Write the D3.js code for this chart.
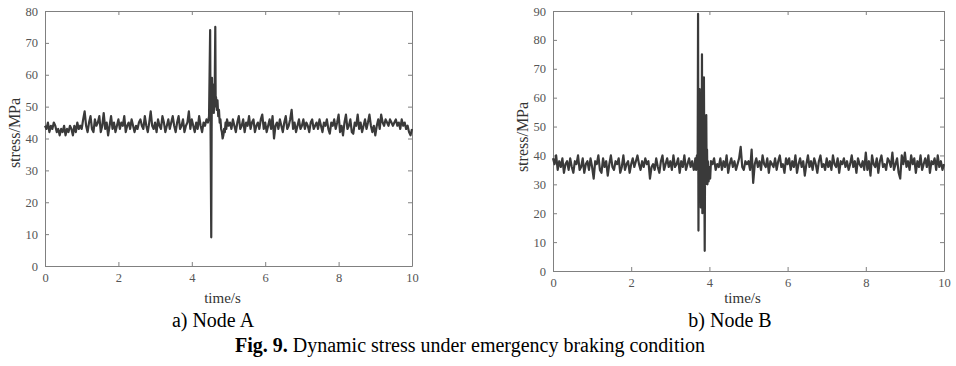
<!DOCTYPE html>
<html>
<head>
<meta charset="utf-8">
<script src="https://cdn.jsdelivr.net/npm/d3@7"></script>
<style>
  body { margin: 0; background: #fff; }
  svg text { font-family: "Liberation Serif", Tinos, "Times New Roman", Times, "DejaVu Serif", "Noto Serif", serif !important; }
</style>
</head>
<body>
<svg id="chart" width="956" height="366"></svg>
<script>
// sampling step of the baseline records (s)
const dt = 0.04;

// Node A, t = 0 .. 10 s every 0.04 s (burst window replaced below)
const nodeA = [
  44,43,45,42,44,43,45,44,42,43,41,43,42,44,41,43,42,44,43,41,44,42,45,43,44,
  43,46,48.5,44,42,45,47,43,42,46,44,45,47,42,44,48,43,45,41,44,47,43,45,42,44,
  46,43,45,44,47,42,44,45,43,46,44,42,44,43,45,46,44,43,47,44,42,45,48.5,44,43,
  45,42,46,44,43,47,45,42,44,46,43,45,47,44,42,45,47,43,44,46,42,44,45,48.5,43,
  46,44,42,45,43,47,44,42,45,44,46,43,45,44,47,42,44,45,43,46,44,42,45,43,44,
  44,45,43,46,44,42,45,47,43,44,46,42,45,44,47,43,45,46,42,44,45,43,46,47.5,43,
  45,42,44,46,43,47,40,44,45,43,46,44,42,45,47,43,44,46,49,43,45,42,44,46,43,
  44,46,43,45,44,42,45,46,43,44,45,43,46,44,42,45,44,46,43,41.5,45,44,46,43,45,
  47.5,42,44,41,45,47.5,43,44,46,42,41.5,45,44,47.5,43,45,42,44,46,43,45,47.5,44,42,44,
  41,44,46,43,47.5,45,44,46,45,44,46,45,44,45,46,44,45,43,46,44,45,43,44,42,41,
  43
];
// Node A braking burst [time, stress]
const burstA = [
  [4.44,45],[4.47,47],[4.50,74],[4.51,46],[4.53,9],[4.54,42],[4.55,59],[4.56,50],
  [4.57,57],[4.58,49],[4.59,55],[4.60,48],[4.61,53],[4.62,50],[4.64,75],[4.65,52],
  [4.66,53],[4.68,49],[4.70,52],[4.72,47],[4.74,49],[4.76,45],[4.78,46],[4.80,43],
  [4.82,42],[4.84,40],[4.86,41],[4.88,43],[4.90,42],[4.92,45],[4.94,43],[4.96,46]
];

// Node B, t = 0 .. 10 s every 0.04 s (burst window replaced below)
const nodeB = [
  39,37,40,35,38,36,39,34,37,38,35,39,36,34,38,37,40,35,36,39,34,37,38,35,39,
  36,32,38,37,40,35,34,39,36,38,33,37,40,36,35,38,37,39,34,36,40,35,37,38,34,
  37,39,36,38,40,37,35,38,36,39,37,38,32,36,37,35,39,36,34,38,40,35,37,39,36,
  38,35,40,36,37,39,34,38,36,40,35,37,39,36,38,35,37,38,36,39,38,36,37,35,38,
  36,38,37,39,35,37,36,39,35,38,36,40,34,37,39,36,38,35,37,39,43,36,35,38,37,
  38,35,42,30.5,37,39,36,38,35,40,37,36,39,34,38,37,36,39,35,38,40,36,37,34,39,
  37,39,35,38,36,40,34,37,39,36,38,33,37,40,36,38,35,39,37,34,38,40,36,37,35,
  39,36,38,35,40,37,36,39,34,38,37,39,36,38,35,37,40,36,38,34,39,37,36,38,35,
  41,35,38,33,40,37,36,39,34,38,40,36,37,35,39,38,36,41,35,37,39,34,32,40,37,
  41,36,38,35,40,37,39,34,38,36,40,35,37,39,36,40,34,38,37,39,35,40,36,38,35,
  37
];
// Node B braking burst [time, stress]
const burstB = [
  [3.62,36],[3.64,39],[3.66,35],[3.68,40],[3.70,38],[3.71,89],[3.72,14],[3.73,52],
  [3.74,30],[3.75,63],[3.76,28],[3.77,48],[3.78,22],[3.79,45],[3.80,30],[3.81,75],
  [3.82,20],[3.83,50],[3.84,62],[3.85,26],[3.86,67],[3.87,35],[3.88,7],[3.89,40],
  [3.90,30],[3.91,49],[3.92,54],[3.93,31],[3.94,42],[3.95,30],[3.96,38],[3.98,31],
  [4.00,36],[4.02,32],[4.04,38]
];

const xTicks = [0, 2, 4, 6, 8, 10];
const yTicksA = [0, 10, 20, 30, 40, 50, 60, 70, 80];
const yTicksB = [0, 10, 20, 30, 40, 50, 60, 70, 80, 90];

function series(base, burst) {
  const t0 = burst[0][0] - 0.01, t1 = burst[burst.length - 1][0] + 0.01;
  const pts = base.map((v, i) => [+(i * dt).toFixed(2), v])
    .filter(d => d[0] < t0 || d[0] > t1);
  return pts.concat(burst).sort((a, b) => a[0] - b[0]);
}

const svg = d3.select('#chart');

function drawPanel(box, data, yMax, yTicks, labelX, labelY) {
  const x = d3.scaleLinear().domain([0, 10]).range([box.left, box.right]);
  const y = d3.scaleLinear().domain([0, yMax]).range([box.bottom, box.top]);
  const g = svg.append('g');

  const axisColor = '#808080';
  const style = sel => {
    sel.attr('font-family', null);
    sel.select('.domain').attr('stroke', axisColor);
    sel.selectAll('.tick line').attr('stroke', axisColor);
    sel.selectAll('.tick text').attr('fill', '#555').attr('font-size', 12.5);
  };

  g.append('g').attr('transform', `translate(0,${box.bottom})`)
    .call(d3.axisBottom(x).tickValues(xTicks).tickSize(-4).tickPadding(7).tickSizeOuter(0))
    .call(style);
  g.append('g').attr('transform', `translate(0,${box.top})`)
    .call(d3.axisTop(x).tickValues(xTicks).tickSize(-4).tickFormat('').tickSizeOuter(0))
    .call(style);
  g.append('g').attr('transform', `translate(${box.left},0)`)
    .call(d3.axisLeft(y).tickValues(yTicks).tickSize(-4).tickPadding(7).tickSizeOuter(0))
    .call(style);
  g.append('g').attr('transform', `translate(${box.right},0)`)
    .call(d3.axisRight(y).tickValues(yTicks).tickSize(-4).tickFormat('').tickSizeOuter(0))
    .call(style);

  const line = d3.line().x(d => x(d[0])).y(d => y(d[1]));
  g.append('path').datum(data)
    .attr('fill', 'none')
    .attr('stroke', '#3a3a3a')
    .attr('stroke-width', 2.2)
    .attr('stroke-linejoin', 'round')
    .attr('d', line);

  g.append('text')
    .attr('x', (box.left + box.right) / 2 - 6).attr('y', box.timeY)
    .attr('text-anchor', 'middle').attr('font-size', 15).attr('fill', '#333')
    .text('time/s');
  g.append('text')
    .attr('transform', `translate(${labelX},${labelY}) rotate(-90)`)
    .attr('text-anchor', 'middle').attr('dy', '0.35em')
    .attr('font-size', 16).attr('fill', '#333')
    .text('stress/MPa');
}

drawPanel({left: 45, right: 412, top: 11, bottom: 266, timeY: 303},
  series(nodeA, burstA), 80, yTicksA, 14, 133);
drawPanel({left: 553, right: 944, top: 11, bottom: 271, timeY: 303},
  series(nodeB, burstB), 90, yTicksB, 522, 137);

svg.append('text').attr('x', 213).attr('y', 327).attr('text-anchor', 'middle')
  .attr('font-size', 20).text('a) Node A');
svg.append('text').attr('x', 730).attr('y', 327).attr('text-anchor', 'middle')
  .attr('font-size', 20).text('b) Node B');
const cap = svg.append('text').attr('x', 470).attr('y', 352)
  .attr('text-anchor', 'middle').attr('font-size', 20);
cap.append('tspan').attr('font-weight', 'bold').text('Fig. 9.');
cap.append('tspan').text(' Dynamic stress under emergency braking condition');
</script>
</body>
</html>
